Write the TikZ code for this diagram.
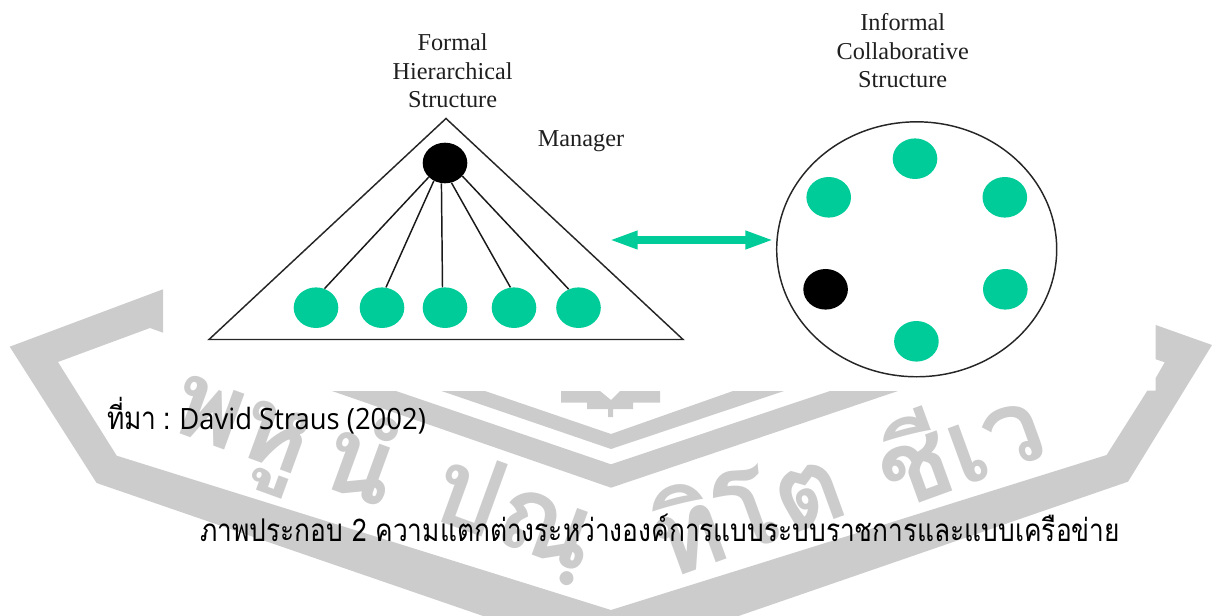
\documentclass[tikz,border=0pt]{standalone}
\usepackage{fontspec}
\setmainfont{Liberation Serif}
\newfontfamily\thaifont[Script=Thai]{Loma}
\newfontfamily\thainarrow[Script=Thai,FakeStretch=0.84]{Loma}
\newfontfamily\srcfont[FakeStretch=0.935]{Open Sans}
\usetikzlibrary{shapes.geometric,arrows.meta}
\definecolor{mintgreen}{HTML}{00CC99}
\definecolor{wmgray}{HTML}{CCCCCC}
\tikzset{
  dotgreen/.style={ellipse,fill=mintgreen,inner sep=0pt,minimum width=44.6pt*0.75,minimum height=40.6pt*0.75},
  dotblack/.style={ellipse,fill=black,inner sep=0pt,minimum width=44.6pt*0.75,minimum height=40.6pt*0.75},
  outline/.style={draw=black!85,line width=1.1pt},
  linkline/.style={draw=black!90,line width=1.1pt},
  biarrow/.style={draw=mintgreen,line width=6.2pt,{Triangle[length=21.5pt,width=12.5pt]}-{Triangle[length=21.5pt,width=12.5pt]}},
  eng/.style={font=\fontsize{18.2pt}{21.4pt}\selectfont,text=black!88,align=center,inner sep=0pt},
  wm/.style={font=\fontsize{80pt}{80pt}\selectfont\thaifont\bfseries,text=wmgray,inner sep=0pt},
  wmshape/.style={fill=wmgray,draw=none},
}
\begin{document}
\begin{tikzpicture}[x=0.75pt,y=-0.75pt]
\useasboundingbox (0,0) rectangle (1212,616);
% watermark chevrons
\fill[wmshape] (163,289.3) -- (9.7,346.7) -- (96.6,483) -- (611,660) -- (1128,481.7) -- (1212,345) -- (1155.7,325) -- (1155.7,359.3) -- (1164.7,362.3) -- (1155.7,378) -- (1155.7,390.7) -- (1147.3,390.7) -- (1106.6,455) -- (611,610) -- (116.7,455.7) -- (58,362) -- (150,328) -- (163,332.7) -- cycle;
\fill[wmshape] (441.5,391) -- (485,391) -- (611,434) -- (733,391) -- (784,391) -- (611,449) -- cycle;
\fill[wmshape] (332,391) -- (396,391) -- (611,464.3) -- (830,391) -- (898,391) -- (611,487.7) -- cycle;
\fill[wmshape] (561,391) -- (600,391) -- (611,400) -- (620,391) -- (660,391) -- (660,402.7) -- (633,402.7) -- (633,409) -- (613,409) -- (613,417) -- (608,417) -- (608,409) -- (587,409) -- (587,402.7) -- (561,402.7) -- cycle;
% watermark text
\node[wm,rotate=-20] (w1) at (285,440) {พหู\,นํ};
\node[wm,rotate=-20] (w2) at (514,517) {ปณฺ};
\node[wm,rotate=20] (w3) at (745,506) {ทิโต};
\node[wm,rotate=20] (w4) at (957,441) {ชีเว};
% triangle
\node[inner sep=0pt] (apex) at (446,118.5) {};
\coordinate (tl) at (209,339.5);
\coordinate (tr) at (683,339.5);
\draw[outline,line join=miter] (apex.center) -- (tl) -- (tr) -- cycle;
% hierarchy nodes
\node[dotblack] (m) at (445,163) {};
\node[dotgreen] (g1) at (316,307.7) {};
\node[dotgreen] (g2) at (382,307.7) {};
\node[dotgreen] (g3) at (445,307.7) {};
\node[dotgreen] (g4) at (514,307.7) {};
\node[dotgreen] (g5) at (578.5,307.7) {};
\draw[linkline] (m.221) -- (g1.66);
\draw[linkline] (m.238) -- (g2.79);
\draw[linkline] (m.260) -- (g3.97);
\draw[linkline] (m.288) -- (g4.100);
\draw[linkline] (m.323) -- (g5.118);
% circle
\node[ellipse,outline,inner sep=0pt,minimum width=210pt,minimum height=191.2pt] (c) at (916.7,249.3) {};
\node[dotgreen] (c1) at (915,158.7) {};
\node[dotgreen] (c2) at (828.7,197.3) {};
\node[dotgreen] (c3) at (1004.8,197.3) {};
\node[dotblack] (c4) at (825.6,289.3) {};
\node[dotgreen] (c5) at (1005.3,289.3) {};
\node[dotgreen] (c6) at (916.4,341.3) {};
% arrow
\coordinate (al) at (609,240);
\coordinate (ar) at (774,240);
\draw[biarrow] (al) -- (ar);
% labels
\node[eng] (formal) at (452.6,71) {Formal\\Hierarchical\\Structure};
\node[eng] (informal) at (902.7,51) {Informal\\Collaborative\\Structure};
\node[eng,anchor=base] (manager) at (581,146.7) {Manager};
\node[anchor=base west,inner sep=0pt,font=\fontsize{23.5pt}{24pt}\selectfont\thainarrow,text=black] (src) at (107,429) {ที่มา\hspace{5pt}:\hspace{6.5pt}{\fontsize{22pt}{24pt}\selectfont\srcfont David Straus (2002)}};
\node[anchor=base west,inner sep=0pt,font=\fontsize{23.5pt}{24pt}\selectfont\thainarrow,text=black] (cap) at (200,541.7) {ภาพประกอบ 2 ความแตกต่างระหว่างองค์การแบบระบบราชการและแบบเครือข่าย};
\end{tikzpicture}
\end{document}
